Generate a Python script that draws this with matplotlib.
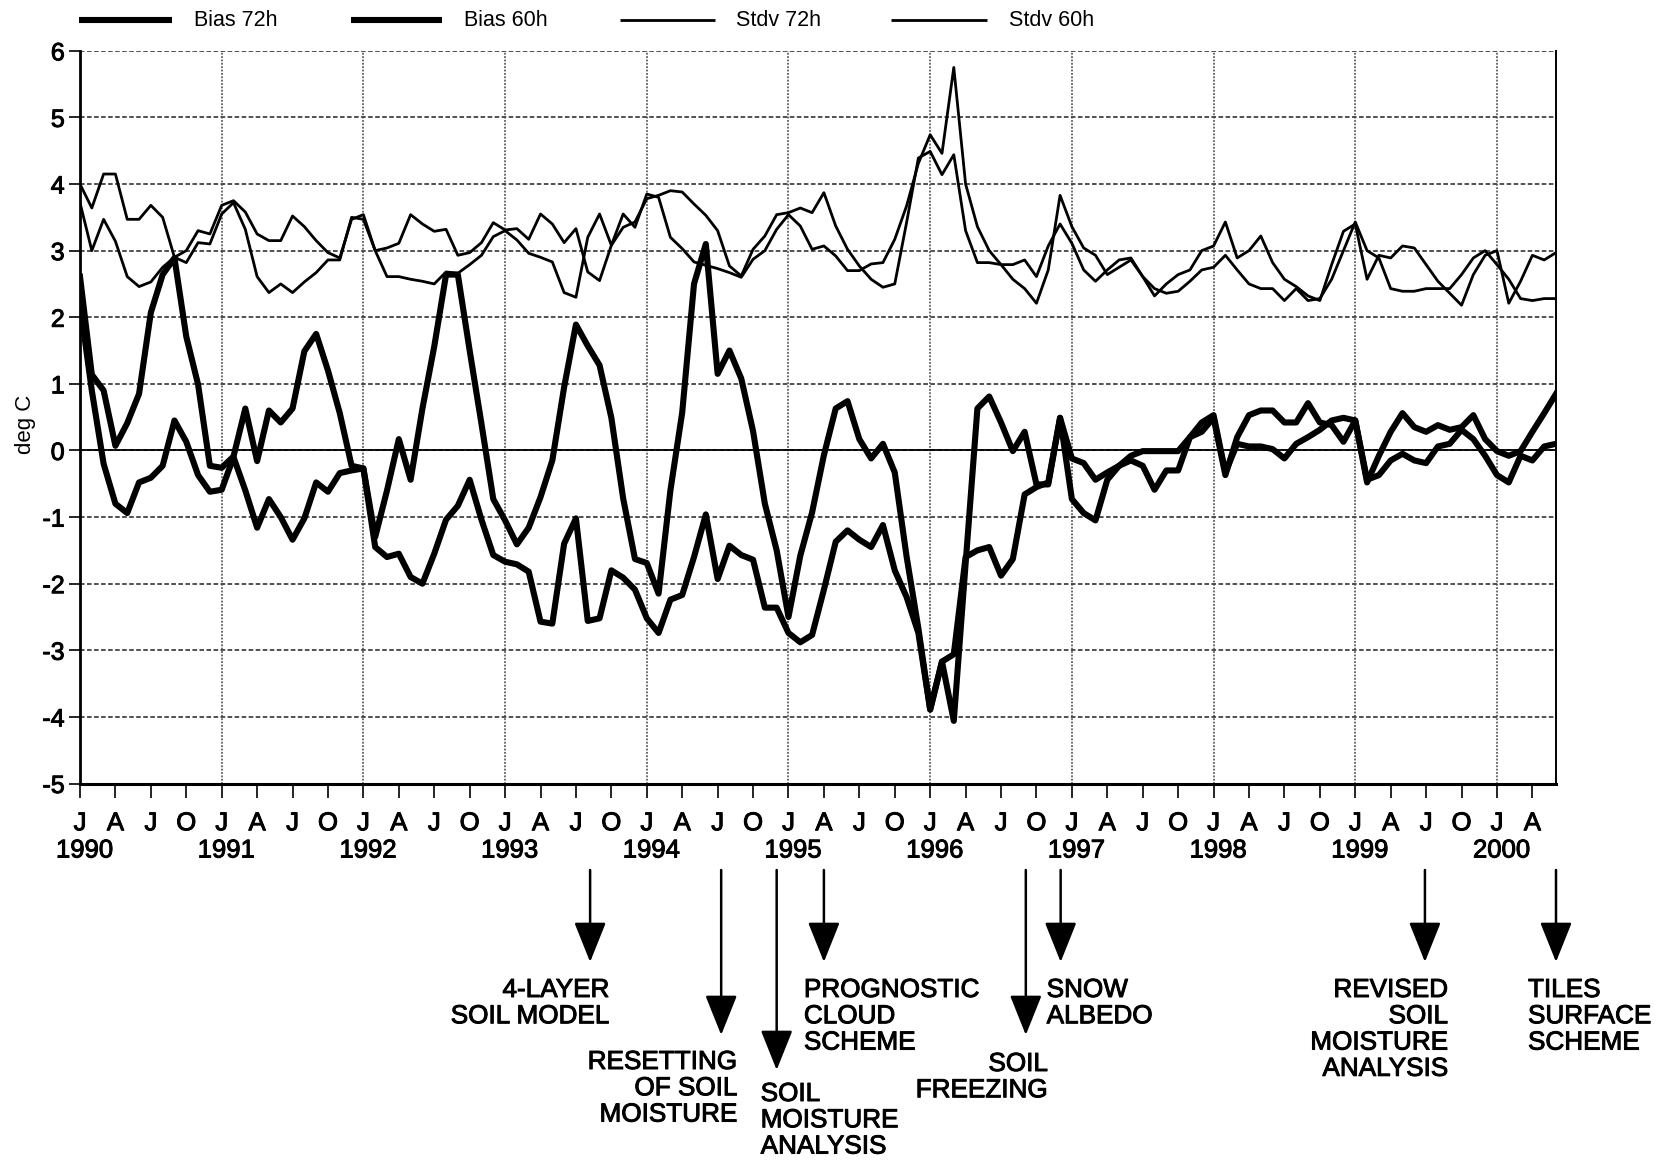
import numpy as np
import matplotlib
matplotlib.use("Agg")
import matplotlib.pyplot as plt
from matplotlib import font_manager as fm
from matplotlib.lines import Line2D
import matplotlib.patheffects as pe

# ---------------------------------------------------------------- data
quarter_letters = ["J", "A", "J", "O"]
years = [1990, 1991, 1992, 1993, 1994, 1995, 1996, 1997, 1998, 1999, 2000]
series_names = ["Bias 72h", "Bias 60h", "Stdv 72h", "Stdv 60h"]

# monthly values, January 1990 .. June 2000 (deg C)
bias_72h = [
    2.2, 0.9, -0.2, -0.8, -0.94, -0.48, -0.41, -0.23, 0.45, 0.13, -0.37, -0.62,
    -0.59, -0.1, -0.6, -1.16, -0.73, -1.0, -1.34, -1.02, -0.48, -0.62, -0.34, -0.3,
    -0.27, -1.45, -1.6, -1.55, -1.9, -2.0, -1.55, -1.04, -0.83, -0.44, -1.04, -1.57,
    -1.67, -1.71, -1.82, -2.57, -2.6, -1.4, -1.02, -2.56, -2.52, -1.8, -1.91, -2.09,
    -2.52, -2.74, -2.24, -2.17, -1.6, -0.96, -1.93, -1.43, -1.57, -1.64, -2.36, -2.36,
    -2.74, -2.88, -2.77, -2.09, -1.37, -1.2, -1.34, -1.45, -1.12, -1.8, -2.2, -2.74,
    -3.89, -3.17, -3.06, -1.6, -1.5, -1.45, -1.88, -1.63, -0.66, -0.55, -0.48, 0.49,
    -0.12, -0.19, -0.44, -0.33, -0.23, -0.15, -0.23, -0.59, -0.3, -0.3, 0.2, 0.42,
    0.53, -0.33, 0.1, 0.06, 0.06, 0.02, -0.12, 0.1, 0.2, 0.31, 0.45, 0.49,
    0.45, -0.44, -0.37, -0.15, -0.05, -0.15, -0.19, 0.06, 0.1, 0.31, 0.17, -0.08,
    -0.37, -0.48, -0.08, -0.15, 0.06, 0.1,
]
bias_60h = [
    2.61, 1.14, 0.9, 0.07, 0.41, 0.85, 2.07, 2.64, 2.89, 1.71, 0.99, -0.23,
    -0.26, -0.09, 0.63, -0.16, 0.6, 0.42, 0.63, 1.49, 1.75, 1.2, 0.56, -0.23,
    -0.27, -1.3, -0.6, 0.17, -0.44, 0.63, 1.56, 2.64, 2.64, 1.5, 0.4, -0.73,
    -1.05, -1.41, -1.16, -0.7, -0.15, 0.95, 1.89, 1.57, 1.28, 0.49, -0.72, -1.63,
    -1.69, -2.15, -0.6, 0.57, 2.5, 3.1, 1.15, 1.5, 1.08, 0.29, -0.8, -1.5,
    -2.5, -1.58, -0.93, -0.07, 0.63, 0.74, 0.17, -0.12, 0.1, -0.33, -1.59, -2.67,
    -3.89, -3.17, -4.06, -1.7, 0.63, 0.81, 0.42, -0.01, 0.28, -0.51, -0.51, 0.49,
    -0.73, -0.94, -1.05, -0.44, -0.23, -0.08, -0.01, -0.01, -0.01, -0.01, 0.2, 0.28,
    0.49, -0.37, 0.2, 0.53, 0.6, 0.6, 0.42, 0.42, 0.71, 0.42, 0.38, 0.13,
    0.45, -0.48, -0.08, 0.28, 0.56, 0.35, 0.28, 0.38, 0.31, 0.35, 0.53, 0.17,
    -0.01, -0.08, -0.01, 0.28, 0.56, 0.85,
]
stdv_72h = [
    4.0, 3.64, 4.15, 4.15, 3.47, 3.47, 3.68, 3.5, 2.9, 3.0, 3.3, 3.25,
    3.68, 3.75, 3.58, 3.25, 3.15, 3.15, 3.52, 3.36, 3.15, 2.97, 2.89, 3.47,
    3.54, 3.0, 3.04, 3.11, 3.54, 3.4, 3.29, 3.32, 2.93, 2.97, 3.12, 3.42,
    3.31, 3.33, 3.17, 3.55, 3.4, 3.12, 3.33, 2.68, 2.55, 3.08, 3.35, 3.43,
    3.78, 3.83, 3.9, 3.88, 3.7, 3.53, 3.3, 2.77, 2.62, 3.02, 3.22, 3.54,
    3.57, 3.64, 3.57, 3.87, 3.37, 3.02, 2.77, 2.57, 2.45, 2.5, 3.42, 4.39,
    4.49, 4.14, 4.44, 3.3, 2.82, 2.82, 2.79, 2.79, 2.86, 2.61, 3.07, 3.4,
    3.11, 2.71, 2.54, 2.71, 2.86, 2.89, 2.61, 2.43, 2.36, 2.39, 2.54, 2.71,
    2.75, 2.93, 2.71, 2.5, 2.43, 2.43, 2.25, 2.43, 2.25, 2.28, 2.57, 3.0,
    3.43, 3.0, 2.89, 2.43, 2.39, 2.39, 2.43, 2.43, 2.43, 2.64, 2.89, 3.0,
    2.79, 2.57, 2.28, 2.25, 2.28, 2.28,
]
stdv_60h = [
    3.72, 3.0, 3.47, 3.14, 2.61, 2.46, 2.53, 2.75, 2.9, 2.82, 3.12, 3.1,
    3.55, 3.72, 3.32, 2.61, 2.37, 2.5, 2.37, 2.53, 2.67, 2.86, 2.86, 3.5,
    3.47, 3.0, 2.61, 2.61, 2.57, 2.54, 2.5, 2.68, 2.66, 2.79, 2.93, 3.21,
    3.3, 3.16, 2.96, 2.9, 2.83, 2.37, 2.3, 3.2, 3.55, 3.08, 3.55, 3.35,
    3.85, 3.8, 3.2, 3.03, 2.83, 2.78, 2.73, 2.67, 2.6, 2.87, 3.0, 3.32,
    3.54, 3.37, 3.02, 3.07, 2.92, 2.7, 2.7, 2.8, 2.82, 3.17, 3.67, 4.31,
    4.74, 4.46, 5.75, 4.0, 3.36, 3.0, 2.79, 2.57, 2.43, 2.21, 2.71, 3.83,
    3.36, 3.04, 2.93, 2.64, 2.75, 2.86, 2.61, 2.32, 2.5, 2.64, 2.71, 3.0,
    3.07, 3.43, 2.89, 3.0, 3.22, 2.82, 2.57, 2.46, 2.32, 2.25, 2.79, 3.29,
    3.4, 2.57, 2.93, 2.89, 3.07, 3.04, 2.79, 2.54, 2.36, 2.18, 2.64, 2.93,
    3.0, 2.21, 2.54, 2.93, 2.86, 2.97,
]

# model changes: month index since January 1990 and caption
change_month = [43.2, 54.3, 59.0, 63.0, 80.1, 83.05, 113.9, 125.0]
change_label = [
    "4-LAYER\nSOIL MODEL",
    "RESETTING\nOF SOIL\nMOISTURE",
    "SOIL\nMOISTURE\nANALYSIS",
    "PROGNOSTIC\nCLOUD\nSCHEME",
    "SOIL\nFREEZING",
    "SNOW\nALBEDO",
    "REVISED\nSOIL\nMOISTURE\nANALYSIS",
    "TILES\nSURFACE\nSCHEME",
]

# ---------------------------------------------------------------- fonts
names = {f.name for f in fm.fontManager.ttflist}
REG = "Liberation Sans" if "Liberation Sans" in names else "DejaVu Sans"
NARROW = "Liberation Sans Narrow" if "Liberation Sans Narrow" in names else REG
heavy = [pe.withStroke(linewidth=0.7, foreground="black")]

W, H = 1660, 1168
fig = plt.figure(figsize=(W / 100, H / 100), dpi=100)
fig.patch.set_facecolor("white")

x0, x1, ytop, ybot = 80.0, 1556.0, 50.8, 783.5
ax = fig.add_axes([x0 / W, 1 - ybot / H, (x1 - x0) / W, (ybot - ytop) / H])

months = np.arange(len(bias_72h))
n_months = len(months)

# ---------------------------------------------------------------- grid
for v in range(-4, 7):
    ax.axhline(v, color="#222222", lw=1.1, dashes=(3, 1.6), zorder=1)
ax.axhline(0, color="black", lw=1.3, zorder=1.1)
for k in range(1, len(years)):
    ax.axvline(12 * k, color="#444444", lw=1.1, dashes=(1.2, 1.0), zorder=1)

# ---------------------------------------------------------------- series
thick, thin = 4.4, 2.0
ax.plot(months, bias_72h, color="black", lw=thick, solid_joinstyle="round", zorder=3)
ax.plot(months, bias_60h, color="black", lw=thick, solid_joinstyle="round", zorder=3)
ax.plot(months, stdv_72h, color="black", lw=thin, solid_joinstyle="round", zorder=2)
ax.plot(months, stdv_60h, color="black", lw=thin, solid_joinstyle="round", zorder=2)

ax.set_xlim(0, n_months - 1)
ax.set_ylim(-5, 6)

# ---------------------------------------------------------------- axes
ax.spines["top"].set_visible(False)
ax.spines["right"].set_linewidth(1.4)
ax.spines["left"].set_linewidth(2.0)
ax.spines["bottom"].set_linewidth(2.2)

qticks = np.arange(0, n_months, 3)
ax.set_xticks(qticks)
ax.set_xticklabels([quarter_letters[(t // 3) % 4] for t in qticks],
                   fontfamily=NARROW, fontsize=18.5)
ax.tick_params(axis="x", direction="out", length=10, width=1.2, pad=10)
ax.set_yticks(range(-5, 7))
ax.set_yticklabels([str(v) for v in range(-5, 7)], fontfamily=NARROW, fontsize=18)
ax.tick_params(axis="y", direction="out", length=8, width=1.2, pad=3)
for lab in ax.get_xticklabels() + ax.get_yticklabels():
    lab.set_path_effects(heavy)
ax.set_ylabel("deg C", fontfamily=REG, fontsize=16)
ax.yaxis.set_label_coords(-0.03, 0.49)

# year labels beneath each January
for k, yr in enumerate(years):
    ax.annotate(str(yr), xy=(12 * k + 0.4, 0), xycoords=("data", "axes fraction"),
                xytext=(0, -55), textcoords="offset pixels",
                ha="center", va="top", fontfamily=NARROW, fontsize=18.5,
                path_effects=heavy, annotation_clip=False)

# ---------------------------------------------------------------- legend
leg_line_x = [(79, 172), (351, 442), (620, 715), (891, 987)]
leg_text_x = [194, 464, 736, 1009]
leg_widths = [thick, thick, thin, thin]
ly = H - 20
for (a, b), tx, lw, name in zip(leg_line_x, leg_text_x, leg_widths, series_names):
    fig.add_artist(Line2D([a / W, b / W], [ly / H, ly / H], color="black", lw=lw,
                          solid_capstyle="butt", transform=fig.transFigure))
    fig.text(tx / W, ly / H, name, ha="left", va="center", fontfamily=REG,
             fontsize=15.5)

# ---------------------------------------------------------------- change arrows
arrow_top = H - 870
tip_px = [962, 1035, 1070, 962, 1035, 962, 962, 962]
text_dx = [19, 16, -16, -20, 22, -14, 23, -28]
text_top = [978, 1050, 1082, 978, 1052, 978, 978, 978]
text_ha = ["right", "right", "left", "left", "right", "left", "right", "left"]

for m, lab, tip, dx, tt, ha in zip(change_month, change_label, tip_px, text_dx,
                                   text_top, text_ha):
    ax.annotate("", xy=(m, H - tip), xycoords=("data", "figure pixels"),
                xytext=(m, arrow_top), textcoords=("data", "figure pixels"),
                arrowprops=dict(arrowstyle="-|>,head_length=2.5,head_width=1.0",
                                mutation_scale=10, lw=1.8, color="black",
                                shrinkA=0, shrinkB=0),
                annotation_clip=False)
    ax.annotate(lab, xy=(m, H - tt), xycoords=("data", "figure pixels"),
                xytext=(dx, 0), textcoords="offset pixels",
                ha=ha, va="top", multialignment=ha, fontfamily=REG,
                fontsize=18.8, linespacing=1.12, path_effects=heavy,
                annotation_clip=False)

fig.savefig("out.png", dpi=100, facecolor="white")
